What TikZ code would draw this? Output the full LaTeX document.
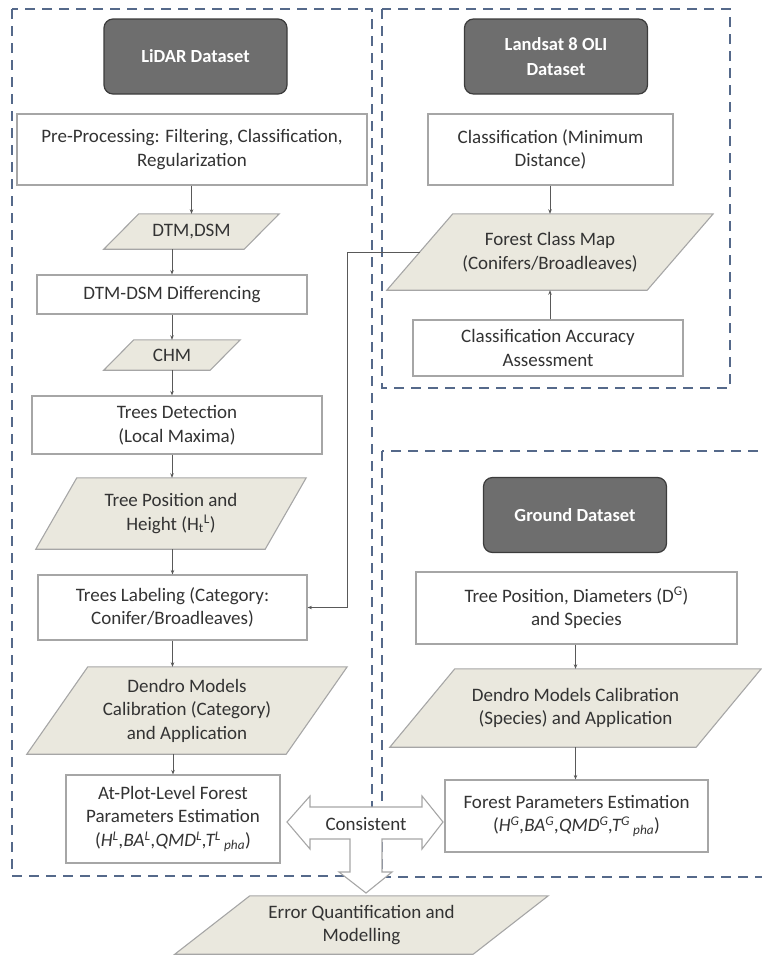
\documentclass[tikz,border=0pt]{standalone}
\usepackage{fontspec}
\setmainfont{Carlito}
\usetikzlibrary{arrows.meta,calc,backgrounds}
\definecolor{boxgray}{HTML}{A6A6A6}
\definecolor{hdrfill}{HTML}{6E6E6E}
\definecolor{hdrborder}{HTML}{3C3C3C}
\definecolor{parafill}{HTML}{EAE8DE}
\definecolor{dashblue}{HTML}{55698A}
\definecolor{arrowgray}{HTML}{595959}
\definecolor{txt}{HTML}{333333}
\newcommand\mainfs{\fontsize{19}{23.5}\selectfont}
\newcommand\hdrfs{\fontsize{18.5}{25}\selectfont\bfseries}
\newcommand\drawpara[2]{%
  \path[parashape] ($(#1.south west)+(-#2,0)$) -- ($(#1.north west)+(#2,0)$) --
    ($(#1.north east)+(#2,0)$) -- ($(#1.south east)+(-#2,0)$) -- cycle;}
\begin{document}
\begin{tikzpicture}[x=1pt,y=-1pt,
  box/.style={draw=boxgray, line width=1.1pt, fill=white, align=center, inner sep=1pt, font=\mainfs, text=txt},
  hdr/.style={draw=hdrborder, line width=1.2pt, fill=hdrfill, rounded corners=9pt, text=white, font=\hdrfs, align=center, minimum width=183, minimum height=75, inner sep=1pt},
  para/.style={draw=none, align=center, inner sep=1pt, font=\mainfs, text=txt},
  parashape/.style={draw=boxgray, line width=1.1pt, fill=parafill},
  flow/.style={draw=arrowgray, line width=0.7pt, -{Stealth[length=4.5pt,width=3.5pt]}},
  group/.style={draw=dashblue, line width=1.8pt, dash pattern=on 10pt off 7pt}]
\useasboundingbox (0,0) rectangle (761,956);

% headers
\node[hdr] (lidar) at (195.5,56.5) {LiDAR Dataset};
\node[hdr] (landsat) at (556,56.5) {Landsat 8 OLI\\Dataset};
\node[hdr] (ground) at (575,515) {Ground Dataset};

% LiDAR column
\node[box, minimum width=350, minimum height=71] (pre) at (192,149.5) {Pre-Processing: Filtering, Classification,\\Regularization};
\node[para, minimum width=140, minimum height=35] (dtm) at (191.5,231.5) {DTM,DSM};
\node[box, minimum width=270, minimum height=39] (diff) at (172,294.5) {DTM-DSM Differencing};
\node[para, minimum width=106, minimum height=30] (chm) at (172,355) {CHM};
\node[box, minimum width=290, minimum height=58] (det) at (177,425) {Trees Detection\\(Local Maxima)};
\node[para, minimum width=229, minimum height=71] (tp) at (171,513.5) {Tree Position and\\Height (H\textsubscript{t}\textsuperscript{L})};
\node[box, minimum width=269, minimum height=65] (lab) at (172.5,607.5) {Trees Labeling (Category:\\Conifer/Broadleaves)};
\node[para, minimum width=259, minimum height=87] (dl) at (187,710.5) {Dendro Models\\Calibration (Category)\\and Application};
\node[box, minimum width=214, minimum height=88] (ap) at (173,819) {At-Plot-Level Forest\\Parameters Estimation\\(\textit{H\textsuperscript{L},BA\textsuperscript{L},QMD\textsuperscript{L},T\textsuperscript{L}\,\textsubscript{pha}})};

% Landsat column
\node[box, minimum width=245, minimum height=71] (cls) at (550.5,149.5) {Classification (Minimum\\Distance)};
\node[para, minimum width=260, minimum height=76] (fcm) at (550,252) {Forest Class Map\\(Conifers/Broadleaves)};
\node[box, minimum width=270, minimum height=56] (caa) at (548,348) {Classification Accuracy\\Assessment};

% Ground column
\node[box, minimum width=321, minimum height=72] (tpg) at (576.5,608) {Tree Position, Diameters (D\textsuperscript{G})\\and Species};
\node[para, minimum width=306, minimum height=78] (dg) at (575.5,708) {Dendro Models Calibration\\(Species) and Application};
\node[box, minimum width=263, minimum height=72] (fpe) at (576.5,816) {Forest Parameters Estimation\\(\textit{H\textsuperscript{G},BA\textsuperscript{G},QMD\textsuperscript{G},T\textsuperscript{G}\,\textsubscript{pha}})};

% bottom
\node[para, minimum width=298, minimum height=58] (err) at (361.5,925) {Error Quantification and\\Modelling};

\begin{scope}[on background layer]
  \draw[group] (12,9) rectangle (372,876);
  \draw[group] (382,9) rectangle (730,388);
  \draw[group] (382,451) rectangle (790,877);
  \drawpara{dtm}{17.5}
  \drawpara{chm}{15}
  \drawpara{tp}{20.5}
  \drawpara{dl}{30.5}
  \drawpara{fcm}{33}
  \drawpara{dg}{32.5}
  \drawpara{err}{37.5}
\end{scope}

% connectors
\draw[flow] (pre.south -| dtm.north) -- (dtm.north);
\draw[flow] (dtm.south -| diff.north) -- (diff.north);
\draw[flow] (diff.south) -- (chm.north);
\draw[flow] (chm.south) -- (chm.south |- det.north);
\draw[flow] (det.south -| chm.south) -- (chm.south |- tp.north);
\draw[flow] (tp.south -| lab.north) -- (lab.north);
\draw[flow] (lab.south) -- (lab.south |- dl.north);
\draw[flow] (dl.south -| ap.north) -- (ap.north);
\draw[flow] (cls.south -| fcm.north) -- (fcm.north);
\draw[flow] (caa.north -| fcm.south) -- (fcm.south);
\draw[flow] (tpg.south -| dg.north) -- (dg.north);
\draw[flow] (dg.south) -- (dg.south |- fpe.north);
\draw[flow] (fcm.west) -| ($(lab.east)+(39.5,0)$) -- (lab.east);

% three-way block arrow
\draw[draw=boxgray, fill=white, line width=1.1pt, line join=miter]
  (287,822) -- (310,796) -- (310,807) -- (422,807) -- (422,796) -- (443,822) --
  (422,849) -- (422,839) -- (382,839) -- (382,872) -- (392,872) -- (366,893) --
  (339,872) -- (350,872) -- (350,839) -- (310,839) -- (310,849) -- cycle;
\node[font=\mainfs, text=txt] (cons) at (366,824) {Consistent};
\end{tikzpicture}
\end{document}
